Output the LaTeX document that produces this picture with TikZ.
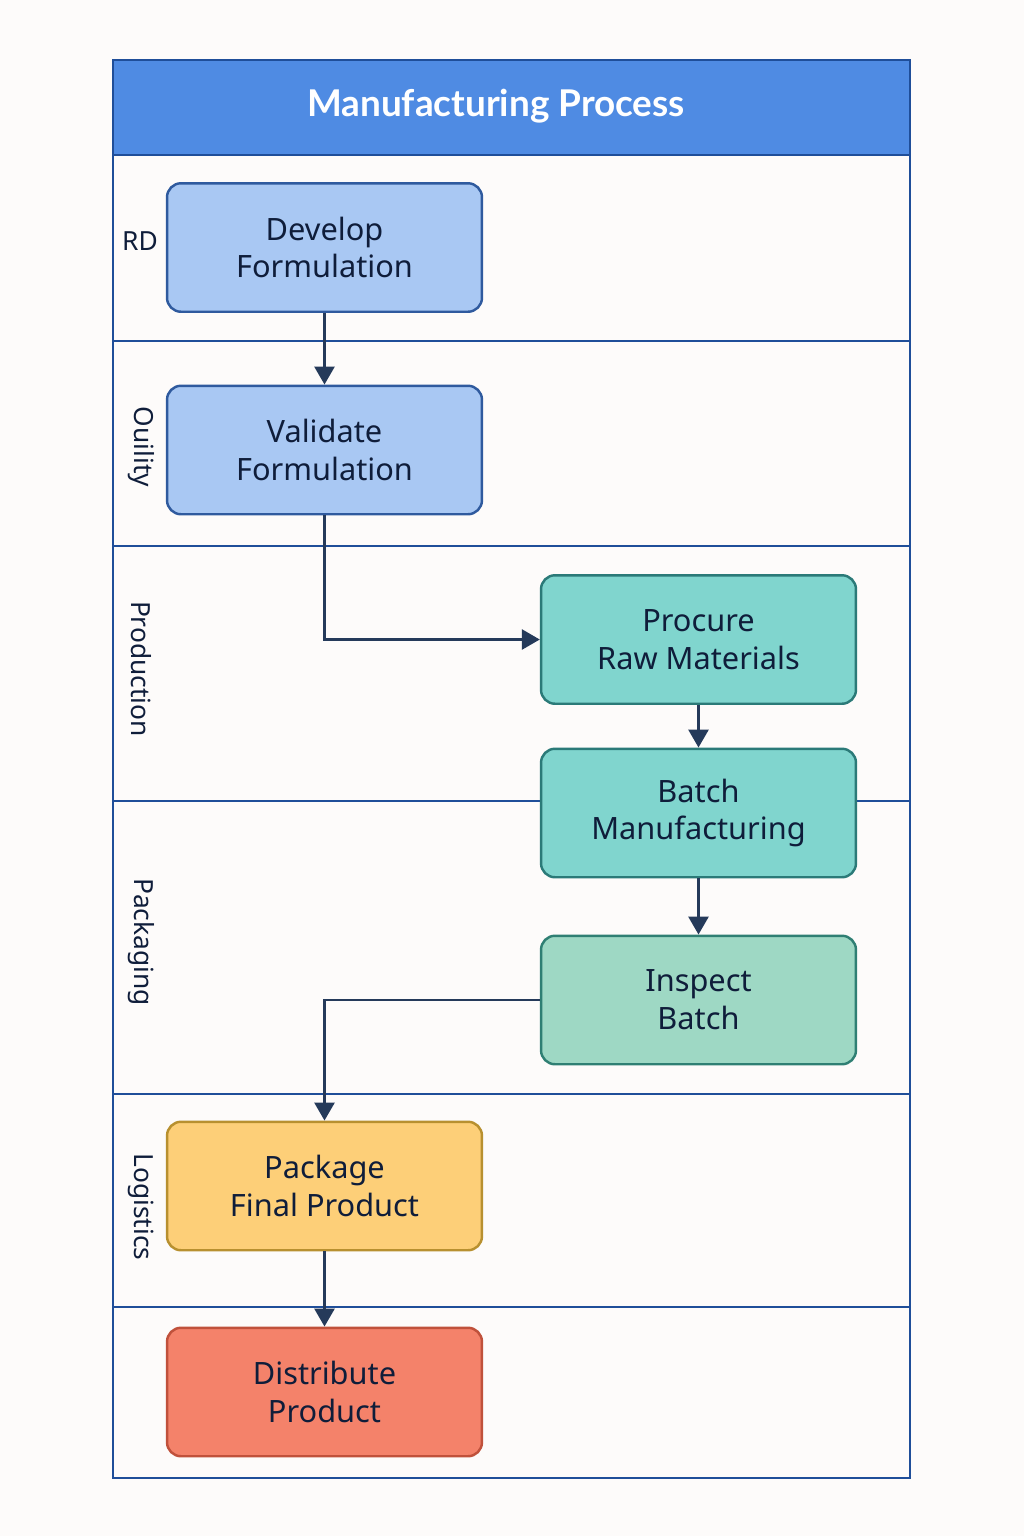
\documentclass[tikz,border=0pt]{standalone}
\usepackage{fontspec}
\setmainfont{Noto Sans}
\newfontfamily\boxfont{Noto Sans}
\newfontfamily\titlefont{Lato}
\usetikzlibrary{arrows.meta}

\definecolor{pagebg}{HTML}{FDFBFA}
\definecolor{framecol}{HTML}{1F4E99}
\definecolor{titlefill}{HTML}{4F8BE3}
\definecolor{textdark}{HTML}{0F1D3A}
\definecolor{flowcol}{HTML}{253A5A}
\definecolor{bluefill}{HTML}{A9C8F3}
\definecolor{blueline}{HTML}{2F5A9E}
\definecolor{tealfill}{HTML}{80D5CE}
\definecolor{tealline}{HTML}{2B7A78}
\definecolor{mintfill}{HTML}{9ED8C4}
\definecolor{mintline}{HTML}{2F7F73}
\definecolor{goldfill}{HTML}{FDCF78}
\definecolor{goldline}{HTML}{B8902F}
\definecolor{redfill}{HTML}{F4826A}
\definecolor{redline}{HTML}{C0513B}

\begin{document}
\begin{tikzpicture}[x=0.02cm,y=-0.02cm,
	stepbox/.style={draw, rounded corners=0.28cm, line width=1.4pt,
		minimum width=6.3cm, minimum height=2.57cm, align=center,
		text=textdark, font=\boxfont\fontsize{17.5}{21.5}\selectfont},
	bluebox/.style={stepbox, fill=bluefill, draw=blueline},
	tealbox/.style={stepbox, fill=tealfill, draw=tealline},
	mintbox/.style={stepbox, fill=mintfill, draw=mintline},
	goldbox/.style={stepbox, fill=goldfill, draw=goldline},
	redbox/.style={stepbox, fill=redfill, draw=redline},
	lane/.style={draw=framecol, line width=1.6pt},
	lanelabel/.style={text=textdark, font=\fontsize{15}{18}\selectfont},
	flow/.style={draw=flowcol, line width=1.6pt,
		-{Triangle[length=0.36cm, width=0.4cm]}}]

	% page and frame
	\fill[pagebg] (0,0) rectangle (1024,1536);
	\node (band) [fill=titlefill, draw=framecol, line width=1.6pt,
		minimum width=15.94cm, minimum height=1.9cm] at (511.5,107.5) {};
	\node (title) [text=white, font=\titlefont\bfseries\fontsize{21}{25}\selectfont] at (496,106) {Manufacturing Process};
	\draw[lane] (113,60) rectangle (910,1478);
	\foreach \y in {341,546,801,1094,1307}
		\draw[lane] (113,\y) -- (910,\y);

	% lane names
	\node (lblrd) [lanelabel] at (140,241) {RD};
	\node (lblquality) [lanelabel, rotate=-90] at (141,447) {Ouility};
	\node (lblproduction) [lanelabel, rotate=-90] at (141,669) {Production};
	\node (lblpackaging) [lanelabel, rotate=-90] at (141,942) {Packaging};
	\node (lbllogistics) [lanelabel, rotate=-90] at (141,1207) {Logistics};

	% steps
	\node (develop) [bluebox] at (324.5,247.5) {Develop\\Formulation};
	\node (validate) [bluebox] at (324.5,450) {Validate\\Formulation};
	\node (procure) [tealbox] at (698.5,639.5) {Procure\\Raw Materials};
	\node (batch) [tealbox] at (698.5,813) {Batch\\Manufacturing};
	\node (inspect) [mintbox] at (698.5,1000) {Inspect\\Batch};
	\node (package) [goldbox] at (324.5,1186) {Package\\Final Product};
	\node (distribute) [redbox] at (324.5,1392) {Distribute\\Product};

	% flow
	\draw[flow] (develop) -- (validate);
	\draw[flow] (validate.south) |- (procure.west);
	\draw[flow] (procure) -- (batch);
	\draw[flow] (batch) -- (inspect);
	\draw[flow] (inspect.west) -| (package.north);
	\draw[flow] (package) -- (distribute);
\end{tikzpicture}
\end{document}
